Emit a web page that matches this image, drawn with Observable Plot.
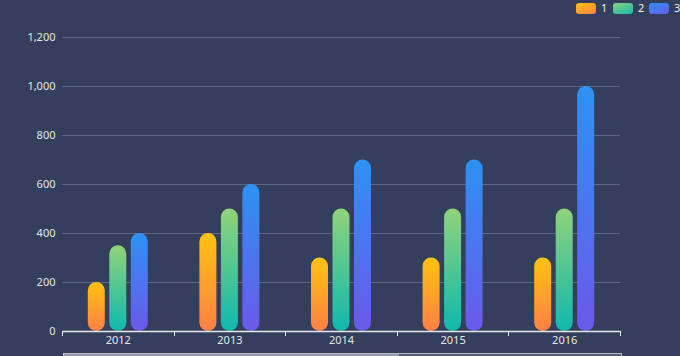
<!DOCTYPE html>
<html><head><meta charset="utf-8">
<script src="https://cdn.jsdelivr.net/npm/d3@7"></script>
<script src="https://cdn.jsdelivr.net/npm/@observablehq/plot@0.6"></script>
<style>
html,body{margin:0;padding:0;background:#333f5d;}
#wrap{position:relative;width:680px;height:356px;overflow:hidden;font-family:"Noto Sans","DejaVu Sans",sans-serif;}
#legend{position:absolute;top:2px;left:0;width:680px;height:14px;}
.item{position:absolute;top:0;height:14px;font-size:11px;line-height:14px;color:#f0f0f0;}
.sw{position:absolute;top:1px;left:0;width:20px;height:11px;border-radius:3px;}
.lab{position:absolute;left:25px;top:-1px;}
#slider{position:absolute;left:63px;top:353px;width:557px;height:6px;border:1px solid #b9bcc6;background:rgba(150,155,170,0.35);}
#slider .sel{position:absolute;left:0;top:0;width:335px;height:6px;background:rgba(200,203,212,0.55);}
</style></head><body><div id="wrap"><div id="chart"></div><div id="legend"></div><div id="slider"><div class="sel"></div></div></div>
<script>
const years = ["2012", "2013", "2014", "2015", "2016"];
const seriesNames = ["1", "2", "3"];
const series1 = [200, 400, 300, 300, 300];
const series2 = [350, 500, 500, 500, 500];
const series3 = [400, 600, 700, 700, 1000];
const yTicks = [0, 200, 400, 600, 800, 1000, 1200];
const gradientColors = [["#ffc30f", "#ff8046"], ["#90d37a", "#10b8ae"], ["#2d91f3", "#6b59ea"]];

const allSeries = [series1, series2, series3];
const W = 680, H = 356, mL = 62, mR = 60, mT = 37, mB = 25;
const barW = 17, gap = 21.5;
const band = (W - mL - mR) / years.length;
const inset = (band - barW) / 2;

const defsMark = () => {
  const defs = d3.create("svg:defs");
  gradientColors.forEach((c, k) => {
    const g = defs.append("linearGradient").attr("id", "grad" + k)
      .attr("x1", 0).attr("y1", 0).attr("x2", 0).attr("y2", 1);
    g.append("stop").attr("offset", "0%").attr("stop-color", c[0]);
    g.append("stop").attr("offset", "100%").attr("stop-color", c[1]);
  });
  return defs.node();
};

const boundaryTicks = (index, scales, values, dimensions) => {
  const x = scales.x, y = scales.y;
  const xs = years.map(d => x(d));
  xs.push(dimensions.width - dimensions.marginRight);
  const y0 = y(0);
  const g = d3.create("svg:g").attr("stroke", "#e8e8e8").attr("stroke-width", 1);
  xs.forEach(v => g.append("line").attr("x1", Math.round(v) + 0.5).attr("x2", Math.round(v) + 0.5).attr("y1", y0).attr("y2", y0 + 5));
  return g.node();
};

const barMarks = allSeries.map((vals, k) =>
  Plot.barY(years.map((yr, i) => ({year: yr, value: vals[i], series: seriesNames[k]})), {
    x: "year", y: "value", fill: `url(#grad${k})`, rx: barW / 2,
    insetLeft: inset, insetRight: inset, dx: (k - 1) * gap
  })
);

const chart = Plot.plot({
  width: W, height: H,
  marginLeft: mL, marginRight: mR, marginTop: mT, marginBottom: mB,
  style: {background: "transparent", color: "#e6e6e6", fontSize: "11px", fontFamily: "'Noto Sans','DejaVu Sans',sans-serif"},
  x: {domain: years, padding: 0, round: false, tickSize: 0, tickPadding: 5, label: null},
  y: {domain: [0, 1200], ticks: yTicks, tickFormat: d => d.toLocaleString("en-US"), tickSize: 0, tickPadding: 7, label: null},
  marks: [
    defsMark,
    Plot.ruleY(yTicks.filter(v => v > 0), {stroke: "#5d6884", strokeWidth: 1}),
    ...barMarks,
    Plot.ruleY([0], {stroke: "#e8e8e8", strokeWidth: 1.5}),
    boundaryTicks
  ]
});
document.getElementById("chart").appendChild(chart);

const legend = d3.select("#legend");
const legendLefts = [576, 613, 649];
seriesNames.forEach((name, k) => {
  const it = legend.append("div").attr("class", "item").style("left", legendLefts[k] + "px");
  it.append("div").attr("class", "sw")
    .style("background", `linear-gradient(160deg, ${gradientColors[k][0]}, ${gradientColors[k][1]})`);
  it.append("div").attr("class", "lab").text(name);
});
</script>
</body></html>
